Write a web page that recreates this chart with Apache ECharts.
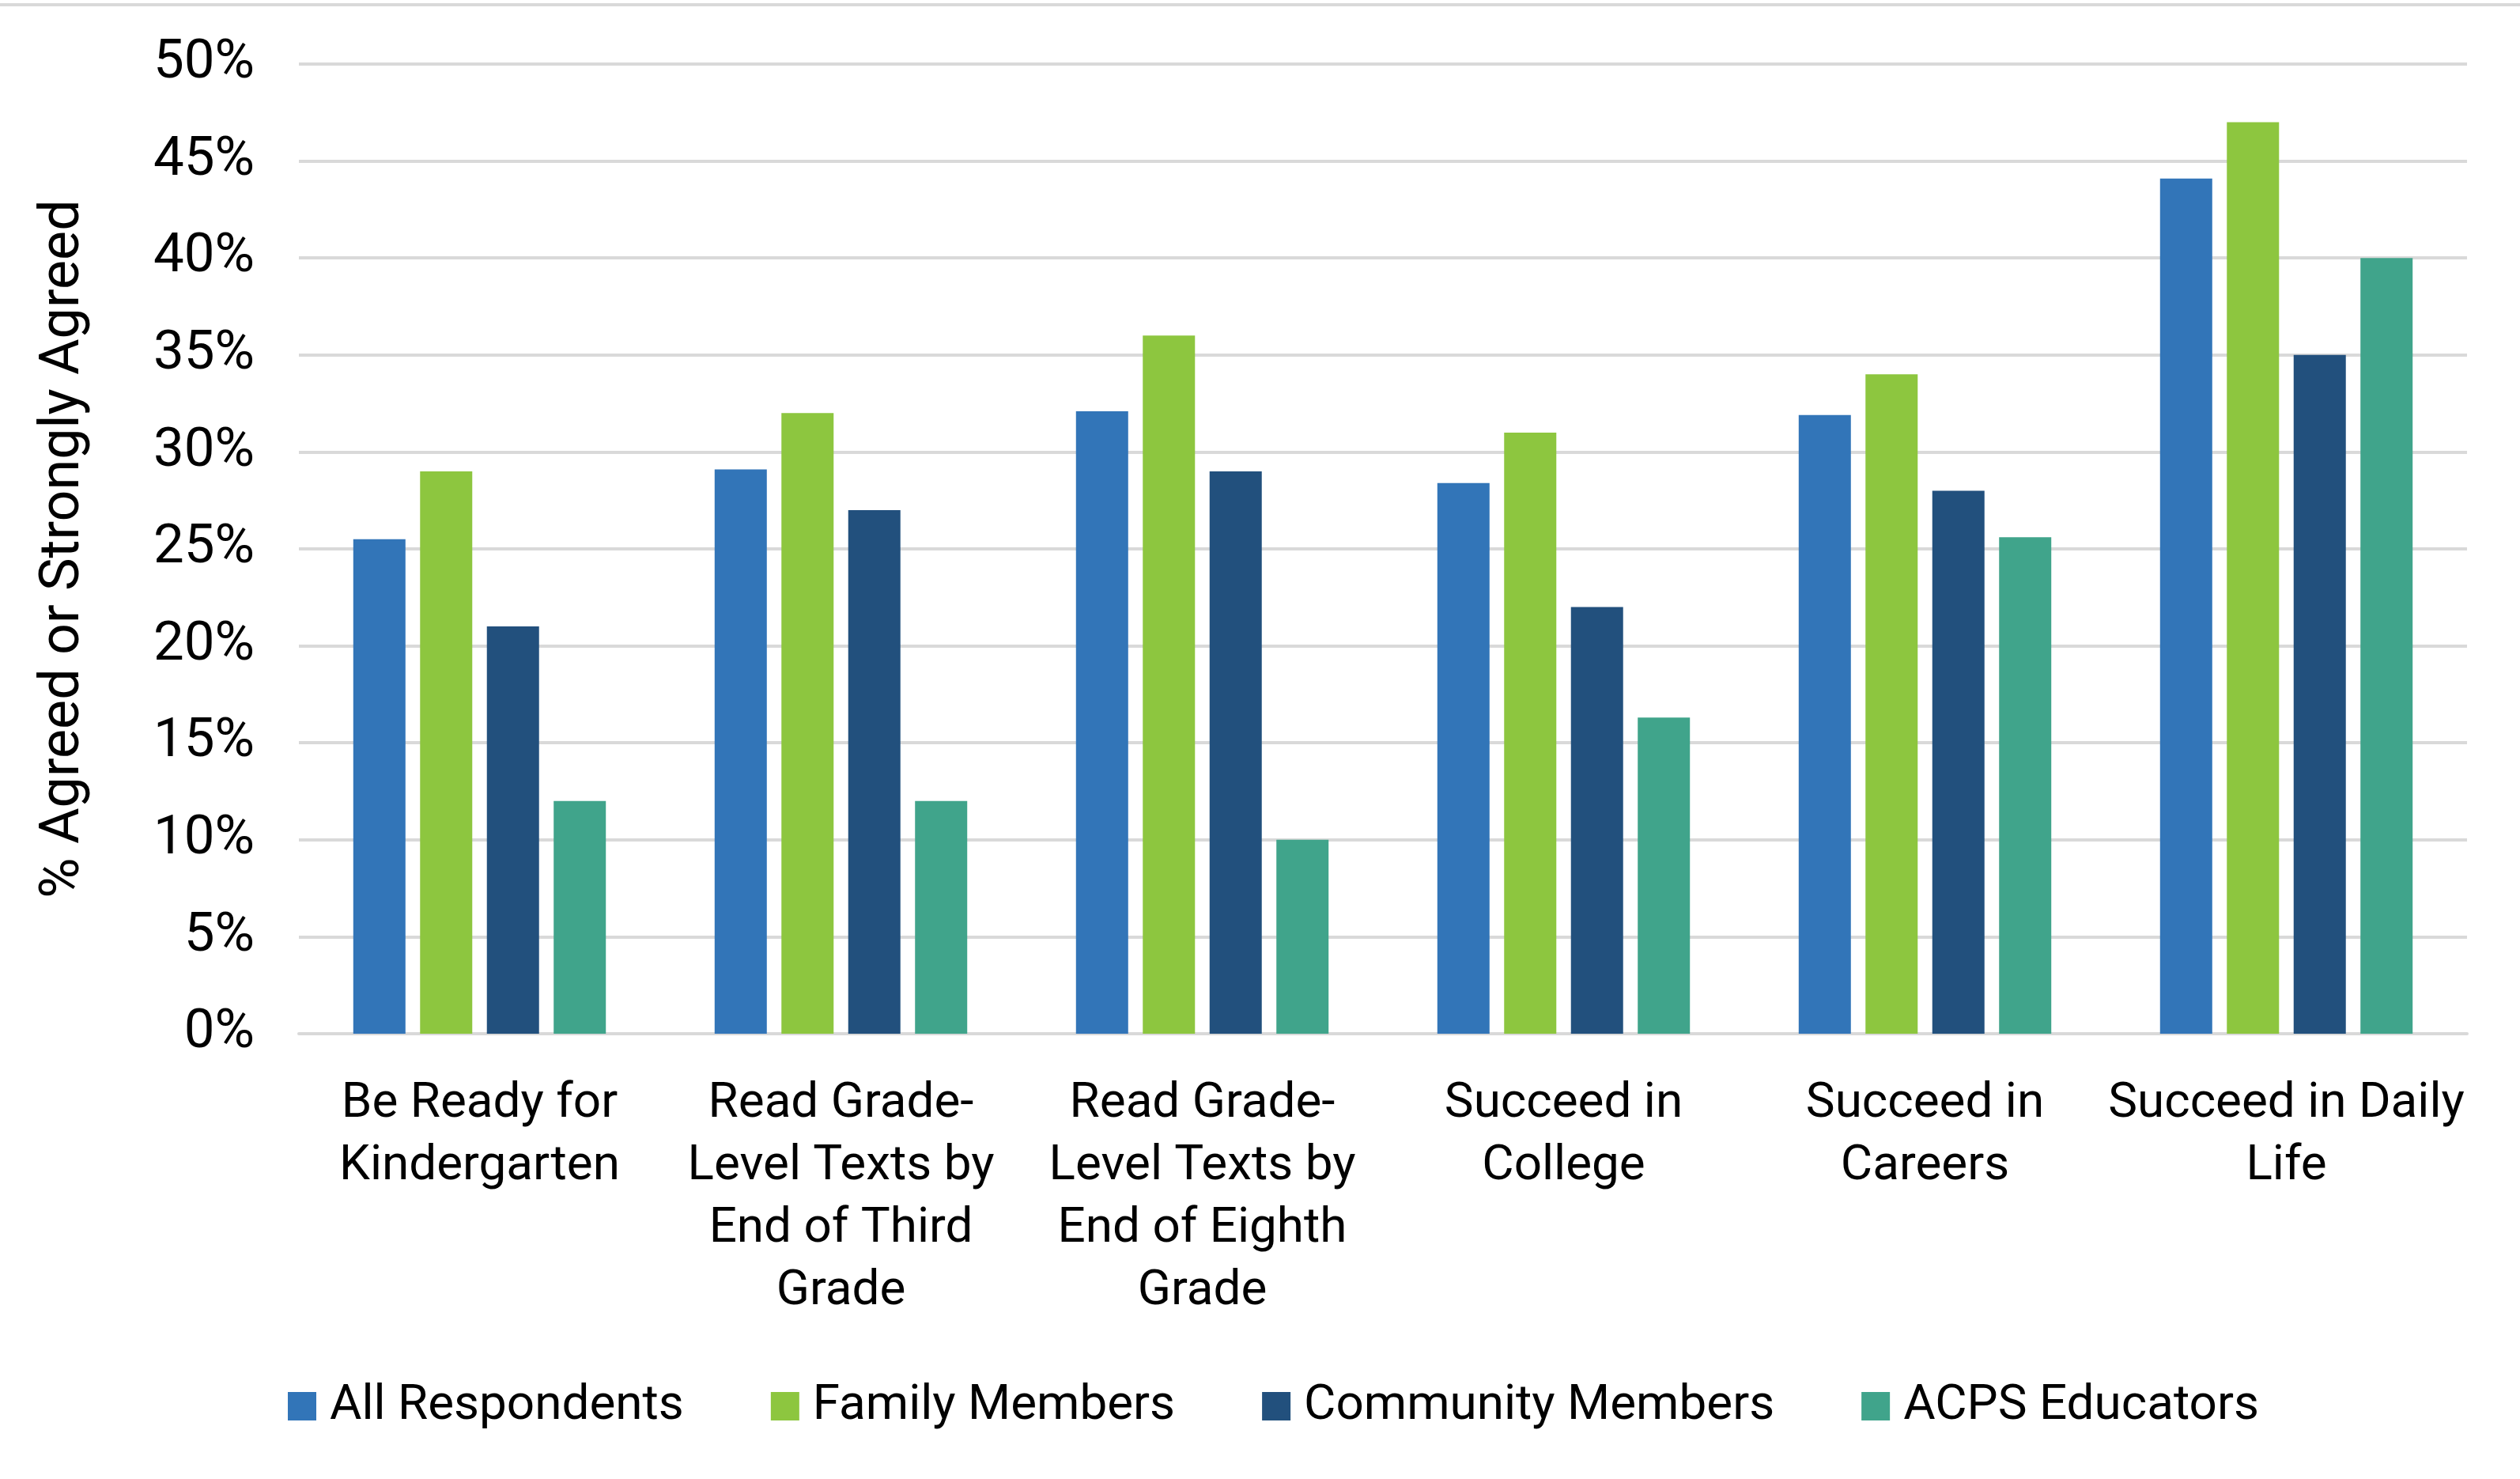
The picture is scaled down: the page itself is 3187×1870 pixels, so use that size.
<!DOCTYPE html>
<html>
<head>
<meta charset="utf-8">
<script src="https://cdn.jsdelivr.net/npm/echarts@6/dist/echarts.min.js"></script>
<style>
  html, body { margin: 0; padding: 0; background: #fff; }
  #main { width: 3187px; height: 1870px; }
</style>
</head>
<body>
<div id="main"></div>
<script>
// categories (line breaks as in the original labels)
var categories = [
  'Be Ready for\nKindergarten',
  'Read Grade-\nLevel Texts by\nEnd of Third\nGrade',
  'Read Grade-\nLevel Texts by\nEnd of Eighth\nGrade',
  'Succeed in\nCollege',
  'Succeed in\nCareers',
  'Succeed in Daily\nLife'
];
var seriesNames = ['All Respondents', 'Family Members', 'Community Members', 'ACPS Educators'];
var allRespondents = [25.5, 29.1, 32.1, 28.4, 31.9, 44.1];
var familyMembers = [29, 32, 36, 31, 34, 47];
var communityMembers = [21, 27, 29, 22, 28, 35];
var acpsEducators = [12, 12, 10, 16.3, 25.6, 40];
var yTicks = [0, 5, 10, 15, 20, 25, 30, 35, 40, 45, 50];

var font = "Roboto, 'Noto Sans', sans-serif";
var colors = ['#3275B8', '#8DC63F', '#22507D', '#40A48B'];

var myChart = echarts.init(document.getElementById('main'));

function bar(name, data) {
  return {
    name: name,
    type: 'bar',
    data: data,
    barWidth: 66,
    barGap: '28%'
  };
}

var option = {
  animation: false,
  color: colors,
  textStyle: { fontFamily: font, color: '#000' },
  graphic: [{
    type: 'line',
    shape: { x1: 0, y1: 6, x2: 3187, y2: 6 },
    style: { stroke: '#D9D9D9', lineWidth: 4 }
  }],
  grid: {
    left: 378,
    right: 67,
    top: 81,
    bottom: 563
  },
  legend: {
    data: seriesNames,
    left: 359,
    top: 1742,
    itemWidth: 36,
    itemHeight: 36,
    itemGap: 110,
    icon: 'rect',
    textStyle: { fontFamily: font, fontSize: 62, color: '#000', padding: [0, 0, 0, 12] }
  },
  xAxis: {
    type: 'category',
    data: categories,
    axisTick: { show: false },
    axisLine: { lineStyle: { color: '#D9D9D9', width: 4 } },
    axisLabel: {
      interval: 0,
      margin: 50,
      fontFamily: font,
      fontSize: 62,
      lineHeight: 79,
      color: '#000'
    }
  },
  yAxis: {
    type: 'value',
    min: yTicks[0],
    max: yTicks[yTicks.length - 1],
    interval: 5,
    name: '% Agreed or Strongly Agreed',
    nameLocation: 'middle',
    nameGap: 262,
    nameTextStyle: { fontFamily: font, fontSize: 70, color: '#000' },
    axisLine: { show: false },
    axisTick: { show: false },
    splitLine: { lineStyle: { color: '#D9D9D9', width: 4 } },
    axisLabel: {
      margin: 56,
      fontFamily: font,
      fontSize: 69,
      color: '#000',
      formatter: function (v) { return v + '%'; }
    }
  },
  series: [
    bar(seriesNames[0], allRespondents),
    bar(seriesNames[1], familyMembers),
    bar(seriesNames[2], communityMembers),
    bar(seriesNames[3], acpsEducators)
  ]
};
myChart.setOption(option);
</script>
</body>
</html>
